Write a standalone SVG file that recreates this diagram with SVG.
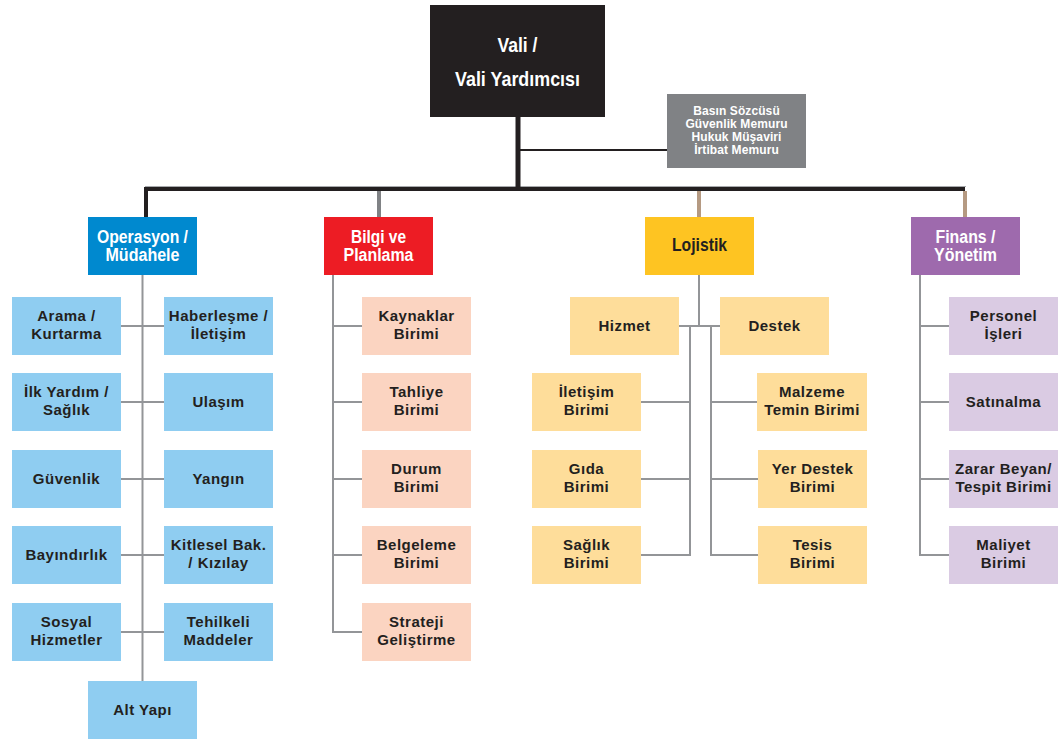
<svg xmlns="http://www.w3.org/2000/svg" width="1061" height="740" viewBox="0 0 1061 740">
<style>
.t{font-family:"Liberation Sans",Arial,sans-serif;font-weight:bold;font-size:15px;letter-spacing:0.5px;fill:#231f20;text-anchor:middle}
.h{font-family:"Liberation Sans",Arial,sans-serif;font-weight:bold;font-size:17.5px;fill:#fff;text-anchor:middle}
.v{font-family:"Liberation Sans",Arial,sans-serif;font-weight:bold;font-size:21px;fill:#fff;text-anchor:middle}
.s{font-family:"Liberation Sans",Arial,sans-serif;font-weight:bold;font-size:12px;letter-spacing:0.1px;fill:#fff;text-anchor:middle}
.c{fill:none;stroke:#939598;stroke-width:2}
.b{fill:#8fcdf1}.p{fill:#fbd4c1}.y{fill:#fedd9a}.l{fill:#dacbe3}
</style>
<rect width="1061" height="740" fill="#fff"/>
<g id="connectors">
  <line x1="145" y1="186.5" x2="966" y2="186.5" stroke="#a7a9ac" stroke-width="1"/>
  <line x1="518" y1="116" x2="518" y2="189" stroke="#231f20" stroke-width="5"/>
  <line x1="518" y1="150" x2="667" y2="150" stroke="#231f20" stroke-width="2"/>
  <polyline points="146,217 146,189 965,189" fill="none" stroke="#231f20" stroke-width="4"/>
  <line x1="379" y1="191" x2="379" y2="217" stroke="#808285" stroke-width="4"/>
  <line x1="699" y1="191" x2="699" y2="217" stroke="#b59a82" stroke-width="4"/>
  <line x1="965" y1="191" x2="965" y2="217" stroke="#b59a82" stroke-width="4"/>
  <line class="c" x1="142.5" y1="274" x2="142.5" y2="681"/>
  <line class="c" x1="121" y1="326" x2="164" y2="326"/>
  <line class="c" x1="121" y1="402" x2="164" y2="402"/>
  <line class="c" x1="121" y1="479" x2="164" y2="479"/>
  <line class="c" x1="121" y1="555" x2="164" y2="555"/>
  <line class="c" x1="121" y1="632" x2="164" y2="632"/>
  <polyline class="c" points="333,275 333,632 362,632"/>
  <line class="c" x1="333" y1="326" x2="362" y2="326"/>
  <line class="c" x1="333" y1="402" x2="362" y2="402"/>
  <line class="c" x1="333" y1="479" x2="362" y2="479"/>
  <line class="c" x1="333" y1="555" x2="362" y2="555"/>
  <line class="c" x1="699" y1="275" x2="699" y2="326"/>
  <line class="c" x1="679" y1="326" x2="720" y2="326"/>
  <polyline class="c" points="690,326 690,555 641,555"/>
  <polyline class="c" points="711,326 711,555 758,555"/>
  <line class="c" x1="641" y1="402" x2="690" y2="402"/>
  <line class="c" x1="641" y1="479" x2="690" y2="479"/>
  <line class="c" x1="711" y1="402" x2="758" y2="402"/>
  <line class="c" x1="711" y1="479" x2="758" y2="479"/>
  <polyline class="c" points="920,275 920,555 949,555"/>
  <line class="c" x1="920" y1="326" x2="949" y2="326"/>
  <line class="c" x1="920" y1="402" x2="949" y2="402"/>
  <line class="c" x1="920" y1="479" x2="949" y2="479"/>
</g>
<g id="vali"><rect x="430" y="5" width="175" height="112" fill="#231f20"/><text class="v" x="517.5" y="52" textLength="40" lengthAdjust="spacingAndGlyphs">Vali /</text><text class="v" x="517.5" y="86" textLength="125" lengthAdjust="spacingAndGlyphs">Vali Yardımcısı</text></g>
<g id="danisman"><rect x="667" y="94" width="139" height="74" fill="#808285"/><text class="s" x="736.5" y="115">Basın Sözcüsü</text><text class="s" x="736.5" y="128">Güvenlik Memuru</text><text class="s" x="736.5" y="141">Hukuk Müşaviri</text><text class="s" x="736.5" y="154">İrtibat Memuru</text></g>
<g id="operasyon"><rect x="88" y="217" width="109" height="58" fill="#0089cf"/><text class="h" x="142.5" y="243" textLength="91" lengthAdjust="spacingAndGlyphs">Operasyon /</text><text class="h" x="142.5" y="261" textLength="74" lengthAdjust="spacingAndGlyphs">Müdahele</text></g>
<g id="bilgi"><rect x="324" y="217" width="109" height="58" fill="#ed1c24"/><text class="h" x="378.5" y="243" textLength="55" lengthAdjust="spacingAndGlyphs">Bilgi ve</text><text class="h" x="378.5" y="261" textLength="70" lengthAdjust="spacingAndGlyphs">Planlama</text></g>
<g id="lojistik"><rect x="645" y="217" width="109" height="58" fill="#fec422"/><text class="h" x="699.5" y="251" style="fill:#231f20" textLength="55" lengthAdjust="spacingAndGlyphs">Lojistik</text></g>
<g id="finans"><rect x="911" y="217" width="109" height="58" fill="#9e6aad"/><text class="h" x="965.5" y="243" textLength="60" lengthAdjust="spacingAndGlyphs">Finans /</text><text class="h" x="965.5" y="261" textLength="63" lengthAdjust="spacingAndGlyphs">Yönetim</text></g>

<g id="arama"><rect class="b" x="12" y="297" width="109" height="58"/><text class="t" x="66.5" y="321">Arama /</text><text class="t" x="66.5" y="339">Kurtarma</text></g>
<g id="haberlesme"><rect class="b" x="164" y="297" width="109" height="58"/><text class="t" x="218.5" y="321">Haberleşme /</text><text class="t" x="218.5" y="339">İletişim</text></g>
<g id="ilkyardim"><rect class="b" x="12" y="373" width="109" height="58"/><text class="t" x="66.5" y="397">İlk Yardım /</text><text class="t" x="66.5" y="415">Sağlık</text></g>
<g id="ulasim"><rect class="b" x="164" y="373" width="109" height="58"/><text class="t" x="218.5" y="407">Ulaşım</text></g>
<g id="guvenlik"><rect class="b" x="12" y="450" width="109" height="58"/><text class="t" x="66.5" y="484">Güvenlik</text></g>
<g id="yangin"><rect class="b" x="164" y="450" width="109" height="58"/><text class="t" x="218.5" y="484">Yangın</text></g>
<g id="bayindirlik"><rect class="b" x="12" y="526" width="109" height="58"/><text class="t" x="66.5" y="560">Bayındırlık</text></g>
<g id="kitlesel"><rect class="b" x="164" y="526" width="109" height="58"/><text class="t" x="218.5" y="550">Kitlesel Bak.</text><text class="t" x="218.5" y="568">/ Kızılay</text></g>
<g id="sosyal"><rect class="b" x="12" y="603" width="109" height="58"/><text class="t" x="66.5" y="627">Sosyal</text><text class="t" x="66.5" y="645">Hizmetler</text></g>
<g id="tehlikeli"><rect class="b" x="164" y="603" width="109" height="58"/><text class="t" x="218.5" y="627">Tehilkeli</text><text class="t" x="218.5" y="645">Maddeler</text></g>
<g id="altyapi"><rect class="b" x="88" y="681" width="109" height="58"/><text class="t" x="142.5" y="715">Alt Yapı</text></g>

<g id="kaynaklar"><rect class="p" x="362" y="297" width="109" height="58"/><text class="t" x="416.5" y="321">Kaynaklar</text><text class="t" x="416.5" y="339">Birimi</text></g>
<g id="tahliye"><rect class="p" x="362" y="373" width="109" height="58"/><text class="t" x="416.5" y="397">Tahliye</text><text class="t" x="416.5" y="415">Birimi</text></g>
<g id="durum"><rect class="p" x="362" y="450" width="109" height="58"/><text class="t" x="416.5" y="474">Durum</text><text class="t" x="416.5" y="492">Birimi</text></g>
<g id="belgeleme"><rect class="p" x="362" y="526" width="109" height="58"/><text class="t" x="416.5" y="550">Belgeleme</text><text class="t" x="416.5" y="568">Birimi</text></g>
<g id="strateji"><rect class="p" x="362" y="603" width="109" height="58"/><text class="t" x="416.5" y="627">Strateji</text><text class="t" x="416.5" y="645">Geliştirme</text></g>

<g id="hizmet"><rect class="y" x="570" y="297" width="109" height="58"/><text class="t" x="624.5" y="331">Hizmet</text></g>
<g id="destek"><rect class="y" x="720" y="297" width="109" height="58"/><text class="t" x="774.5" y="331">Destek</text></g>
<g id="iletisim"><rect class="y" x="532" y="373" width="109" height="58"/><text class="t" x="586.5" y="397">İletişim</text><text class="t" x="586.5" y="415">Birimi</text></g>
<g id="gida"><rect class="y" x="532" y="450" width="109" height="58"/><text class="t" x="586.5" y="474">Gıda</text><text class="t" x="586.5" y="492">Birimi</text></g>
<g id="saglik"><rect class="y" x="532" y="526" width="109" height="58"/><text class="t" x="586.5" y="550">Sağlık</text><text class="t" x="586.5" y="568">Birimi</text></g>
<g id="malzeme"><rect class="y" x="757" y="373" width="110" height="58"/><text class="t" x="812" y="397">Malzeme</text><text class="t" x="812" y="415">Temin Birimi</text></g>
<g id="yerdestek"><rect class="y" x="758" y="450" width="109" height="58"/><text class="t" x="812.5" y="474">Yer Destek</text><text class="t" x="812.5" y="492">Birimi</text></g>
<g id="tesis"><rect class="y" x="758" y="526" width="109" height="58"/><text class="t" x="812.5" y="550">Tesis</text><text class="t" x="812.5" y="568">Birimi</text></g>

<g id="personel"><rect class="l" x="949" y="297" width="109" height="58"/><text class="t" x="1003.5" y="321">Personel</text><text class="t" x="1003.5" y="339">İşleri</text></g>
<g id="satinalma"><rect class="l" x="949" y="373" width="109" height="58"/><text class="t" x="1003.5" y="407">Satınalma</text></g>
<g id="zarar"><rect class="l" x="949" y="450" width="109" height="58"/><text class="t" x="1003.5" y="474">Zarar Beyan/</text><text class="t" x="1003.5" y="492">Tespit Birimi</text></g>
<g id="maliyet"><rect class="l" x="949" y="526" width="109" height="58"/><text class="t" x="1003.5" y="550">Maliyet</text><text class="t" x="1003.5" y="568">Birimi</text></g>
</svg>
